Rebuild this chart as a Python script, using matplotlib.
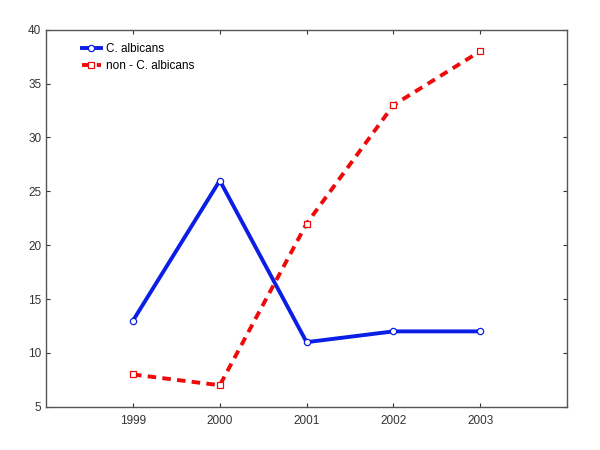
import matplotlib
matplotlib.use('Agg')
import matplotlib.pyplot as plt

# data
years = [1999, 2000, 2001, 2002, 2003]
c_albicans = [13, 26, 11, 12, 12]
non_c_albicans = [8, 7, 22, 33, 38]

plt.rcParams['font.family'] = ['Liberation Sans', 'DejaVu Sans']

fig = plt.figure(figsize=(6, 4.5), dpi=100)
ax = fig.add_axes([0.077, 0.096, 0.868, 0.838])

ax.plot(years, c_albicans, color='#0a1ee6', lw=2.8, marker='o', ms=4.5,
        mfc='white', mec='#0a1ee6', mew=0.9, label='C. albicans')
ax.plot(years, non_c_albicans, color='#ee0a0a', lw=2.8, ls=(0, (2.2, 1.6)),
        marker='s', ms=4.5, mfc='white', mec='#ee0a0a', mew=0.9,
        label='non - C. albicans')

ax.set_xlim(1998, 2004)
ax.set_ylim(5, 40)
ax.set_xticks(years)
ax.set_yticks(range(5, 41, 5))
ax.tick_params(direction='in', length=3, labelsize=8.5, colors='#333333',
               top=True, right=True, width=0.8)
ax.tick_params(axis='x', pad=6)
for s in ax.spines.values():
    s.set_color('#555555')
    s.set_linewidth(1.0)

ax.legend(loc='upper left', bbox_to_anchor=(0.05, 0.99), frameon=False,
          fontsize=8.5, handlelength=1.6, handletextpad=0.5,
          labelspacing=0.4, borderpad=0.3)

fig.savefig('out.png', dpi=100)
